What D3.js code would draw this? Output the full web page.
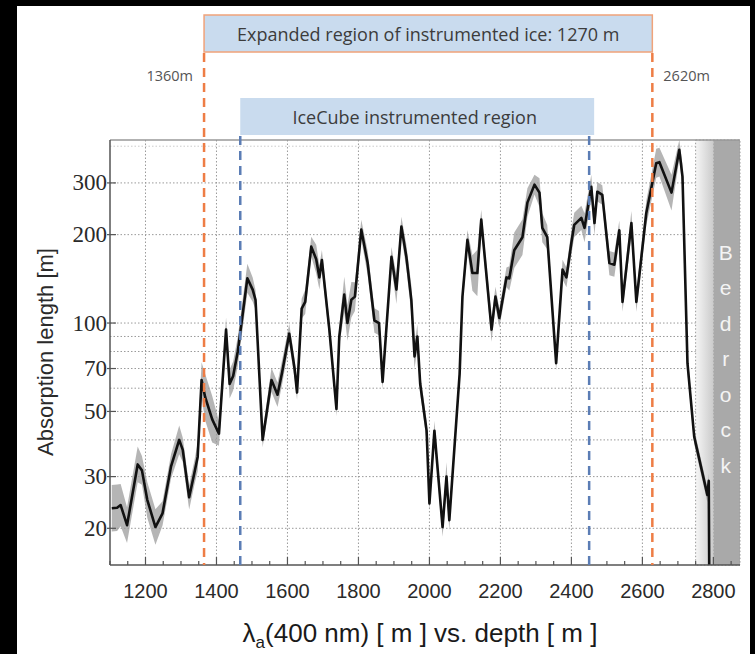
<!DOCTYPE html>
<html>
<head>
<meta charset="utf-8">
<script src="https://cdn.jsdelivr.net/npm/d3@7/dist/d3.min.js"></script>
<style>
  body { margin: 0; background: #000; }
  svg { display: block; }
</style>
</head>
<body>
<svg id="chart" width="755" height="654"></svg>
<script>
// depth [m] of each measured point
var depth = [1105, 1120, 1130, 1148, 1178, 1190, 1205, 1228, 1248, 1272,
  1295, 1305, 1323, 1338, 1347, 1358, 1368, 1388, 1407, 1427,
  1437, 1447, 1460, 1475, 1487, 1502, 1510, 1530, 1555, 1572,
  1585, 1605, 1620, 1627, 1640, 1650, 1667, 1681, 1690, 1697,
  1718, 1738, 1746, 1760, 1769, 1780, 1790, 1808, 1826, 1845,
  1858, 1868, 1893, 1907, 1921, 1935, 1949, 1958, 1966, 1974,
  1992, 2000, 2014, 2037, 2048, 2056, 2085, 2093, 2107, 2121,
  2135, 2146, 2175, 2186, 2197, 2217, 2225, 2239, 2262, 2276,
  2296, 2310, 2318, 2332, 2357, 2375, 2386, 2400, 2408, 2428,
  2437, 2456, 2465, 2473, 2487, 2507, 2521, 2535, 2544, 2569,
  2583, 2611, 2639, 2648, 2682, 2704, 2713, 2727, 2746, 2783,
  2787, 2789];
// absorption length [m]
var absLen = [23.4, 23.5, 24, 20.5, 33, 31.5, 25, 20.2, 22.5, 32.5,
  40, 37, 25.5, 31, 35, 64, 56, 47, 42, 95,
  62, 66, 80, 110, 142, 130, 120, 40, 64, 57,
  68, 92, 70, 58, 112, 118, 182, 165, 143, 164,
  95, 51, 90, 125, 100, 120, 123, 208, 160, 102,
  100, 63, 168, 130, 213, 168, 120, 77, 90, 62,
  43, 24.3, 43, 20.2, 30, 21.3, 67, 123, 192, 148,
  148, 225, 95, 123, 104, 143, 142, 177, 196, 257,
  296, 278, 211, 196, 73, 152, 143, 188, 216, 228,
  211, 291, 219, 280, 273, 160, 158, 207, 118, 219,
  118, 237, 350, 353, 278, 389, 315, 73, 41, 26,
  29, 10];
// relative half width of the grey uncertainty band
var spread = [0.2, 0.2, 0.18, 0.15, 0.15, 0.12, 0.15, 0.15, 0.1, 0.1,
  0.12, 0.1, 0.1, 0.1, 0.12, 0.15, 0.2, 0.2, 0.1, 0.1,
  0.12, 0.12, 0.12, 0.12, 0.12, 0.1, 0.08, 0.06, 0.1, 0.1,
  0.1, 0.08, 0.08, 0.06, 0.08, 0.1, 0.08, 0.12, 0.1, 0.08,
  0.08, 0.06, 0.08, 0.15, 0.15, 0.15, 0.12, 0.08, 0.1, 0.1,
  0.1, 0.06, 0.08, 0.12, 0.08, 0.1, 0.12, 0.1, 0.1, 0.08,
  0.08, 0.06, 0.08, 0.08, 0.12, 0.08, 0.06, 0.08, 0.08, 0.15,
  0.2, 0.08, 0.1, 0.08, 0.08, 0.08, 0.1, 0.15, 0.15, 0.12,
  0.08, 0.12, 0.12, 0.1, 0.06, 0.08, 0.08, 0.1, 0.1, 0.1,
  0.12, 0.1, 0.1, 0.08, 0.08, 0.1, 0.1, 0.08, 0.08, 0.1,
  0.08, 0.1, 0.12, 0.12, 0.15, 0.08, 0.1, 0.08, 0.06, 0.06,
  0.06, 0.06];

var yTickValues = [20, 30, 50, 70, 100, 200, 300];
var yGridValues = [20, 30, 40, 50, 60, 70, 80, 90, 100, 200, 300, 400];
var xTickValues = [1200, 1400, 1600, 1800, 2000, 2200, 2400, 2600, 2800];
var expandedRange = [1365, 2628];
var expandedLabels = ["1360m", "2620m"];
var expandedTitle = "Expanded region of instrumented ice: 1270 m";
var iceCubeRange = [1467, 2450];
var iceCubeTitle = "IceCube instrumented region";
var bedrockRange = [2750, 2800, 2875];
var bedrockText = "Bedrock";

var svg = d3.select("#chart");
var MARGINS = { top: 140, right: 15, bottom: 89, left: 110 },
    WIDTH = 755, HEIGHT = 654;

var xScale = d3.scaleLinear().domain([1100, 2875]).range([MARGINS.left, WIDTH - MARGINS.right]),
    yScale = d3.scaleLog().domain([15, 420]).range([HEIGHT - MARGINS.bottom, MARGINS.top]);
var x0 = xScale.range()[0], x1 = xScale.range()[1],
    y0 = yScale.range()[0], y1 = yScale.range()[1];

var data = depth.map(function(d, i) {
  return { x: d, y: absLen[i], s: spread[i] };
});

// white panel
svg.append("rect").attr("x", 17).attr("y", 6).attr("width", 733).attr("height", 648).attr("fill", "#fff");

var defs = svg.append("defs");
defs.append("clipPath").attr("id", "plotClip")
  .append("rect").attr("x", x0).attr("y", y1).attr("width", x1 - x0).attr("height", y0 - y1);
var grad = defs.append("linearGradient").attr("id", "rockGrad");
grad.append("stop").attr("offset", "0%").attr("stop-color", "#f6f6f6");
grad.append("stop").attr("offset", "100%").attr("stop-color", "#cbcbcb");

// grid
var grid = svg.append("g").attr("stroke", "#9a9a9a").attr("stroke-dasharray", "1.5,2").attr("stroke-width", 1);
grid.selectAll(".gx").data(xTickValues).enter().append("line")
  .attr("x1", function(d) { return xScale(d); }).attr("x2", function(d) { return xScale(d); })
  .attr("y1", y1).attr("y2", y0);
grid.selectAll(".gy").data(yGridValues).enter().append("line")
  .attr("x1", x0).attr("x2", x1)
  .attr("y1", function(d) { return yScale(d); }).attr("y2", function(d) { return yScale(d); })
  .attr("stroke-opacity", function(d) { return d === 400 ? 0.5 : 1; });

// bedrock
svg.append("rect")
  .attr("x", xScale(bedrockRange[0])).attr("y", y1)
  .attr("width", xScale(bedrockRange[1]) - xScale(bedrockRange[0])).attr("height", y0 - y1)
  .attr("fill", "url(#rockGrad)");
svg.append("rect")
  .attr("x", xScale(bedrockRange[1])).attr("y", y1)
  .attr("width", xScale(bedrockRange[2]) - xScale(bedrockRange[1])).attr("height", y0 - y1)
  .attr("fill", "#a9a9a9");
svg.append("rect")
  .attr("x", xScale(bedrockRange[0])).attr("y", y1)
  .attr("width", xScale(bedrockRange[2]) - xScale(bedrockRange[0])).attr("height", y0 - y1)
  .attr("fill", "none").attr("stroke", "#999").attr("stroke-dasharray", "1.5,2");
var rockX = (xScale(bedrockRange[1]) + xScale(bedrockRange[2])) / 2 - 1;
svg.append("g").selectAll("text").data(bedrockText.split("")).enter().append("text")
  .attr("x", rockX).attr("y", function(d, i) { return 252 + i * 35.5; })
  .attr("text-anchor", "middle").attr("dominant-baseline", "central")
  .attr("font-family", "Liberation Sans, Arial, sans-serif").attr("font-size", 21)
  .attr("fill", "#f4f4f4").text(function(d) { return d; });

// band + line
var plot = svg.append("g").attr("clip-path", "url(#plotClip)");
var areaGen = d3.area()
  .x(function(d) { return xScale(d.x); })
  .y0(function(d) { return yScale(d.y / (1 + d.s)); })
  .y1(function(d) { return yScale(d.y * (1 + d.s)); });
plot.append("path").attr("d", areaGen(data)).attr("fill", "#9c9c9c").attr("fill-opacity", 0.75);

var lineGen = d3.line()
  .x(function(d) { return xScale(d.x); })
  .y(function(d) { return yScale(d.y); });
plot.append("path").attr("d", lineGen(data))
  .attr("fill", "none").attr("stroke", "#111").attr("stroke-width", 2.6).attr("stroke-linejoin", "round");

// axes frame
svg.append("line").attr("x1", x0).attr("x2", x1).attr("y1", y1).attr("y2", y1).attr("stroke", "#999").attr("stroke-width", 1.5);
svg.append("line").attr("x1", x0).attr("x2", x1).attr("y1", y0).attr("y2", y0).attr("stroke", "#555").attr("stroke-width", 1.5);
svg.append("line").attr("x1", x0).attr("x2", x0).attr("y1", y1).attr("y2", y0).attr("stroke", "#555").attr("stroke-width", 1.5);

// x ticks (inward)
var minor = d3.range(1100, 2876, 50);
svg.append("g").selectAll("line").data(minor).enter().append("line")
  .attr("x1", function(d) { return xScale(d); }).attr("x2", function(d) { return xScale(d); })
  .attr("y1", y0).attr("y2", function(d) { return y0 - (d % 200 === 0 ? 8 : 4); })
  .attr("stroke", "#555").attr("stroke-width", 1.2);
svg.append("g").selectAll("text").data(xTickValues).enter().append("text")
  .attr("x", function(d) { return xScale(d); }).attr("y", 598)
  .attr("text-anchor", "middle")
  .attr("font-family", "Liberation Sans, Arial, sans-serif").attr("font-size", 20)
  .attr("fill", "#2a2a2a").text(function(d) { return d; });

// y ticks
svg.append("g").selectAll("line").data(yTickValues).enter().append("line")
  .attr("x1", x0 - 3).attr("x2", x0 + 6)
  .attr("y1", function(d) { return yScale(d); }).attr("y2", function(d) { return yScale(d); })
  .attr("stroke", "#555").attr("stroke-width", 1.2);
svg.append("g").selectAll("text").data(yTickValues).enter().append("text")
  .attr("x", x0 - 3).attr("y", function(d) { return yScale(d); })
  .attr("text-anchor", "end").attr("dominant-baseline", "central")
  .attr("font-family", "Liberation Serif, Times New Roman, serif").attr("font-size", 23)
  .attr("fill", "#2a2a2a").text(function(d) { return d; });

// axis titles
var xt = svg.append("text").attr("x", 420).attr("y", 642).attr("text-anchor", "middle")
  .attr("font-family", "Liberation Sans, Arial, sans-serif").attr("font-size", 26).attr("fill", "#1a1a1a");
xt.append("tspan").text("\u03bb");
xt.append("tspan").attr("font-size", 17).attr("dy", 6).text("a");
xt.append("tspan").attr("dy", -6).text("(400 nm) [ m ] vs. depth [ m ]");

svg.append("text").attr("transform", "translate(45,352) rotate(-90)")
  .attr("text-anchor", "middle").attr("dominant-baseline", "central")
  .attr("font-family", "Liberation Sans, Arial, sans-serif").attr("font-size", 22)
  .attr("fill", "#2a2a2a").text("Absorption length [m]");

// region markers
var orange = "#ee7d45", blue = "#5b7db5", boxFill = "#c9dbee";
svg.append("rect")
  .attr("x", xScale(expandedRange[0])).attr("y", 15)
  .attr("width", xScale(expandedRange[1]) - xScale(expandedRange[0])).attr("height", 37)
  .attr("fill", boxFill).attr("stroke", "#f0a37a").attr("stroke-width", 1.5);
svg.append("text").attr("x", (xScale(expandedRange[0]) + xScale(expandedRange[1])) / 2).attr("y", 34)
  .attr("text-anchor", "middle").attr("dominant-baseline", "central")
  .attr("font-family", "Open Sans, Lato, sans-serif").attr("font-size", 18)
  .attr("fill", "#3c3c3c").text(expandedTitle);

svg.append("rect")
  .attr("x", xScale(iceCubeRange[0])).attr("y", 98)
  .attr("width", xScale(iceCubeRange[1]) - xScale(iceCubeRange[0]) + 5).attr("height", 37)
  .attr("fill", boxFill);
svg.append("text").attr("x", (xScale(iceCubeRange[0]) + xScale(iceCubeRange[1])) / 2).attr("y", 117)
  .attr("text-anchor", "middle").attr("dominant-baseline", "central")
  .attr("font-family", "Open Sans, Lato, sans-serif").attr("font-size", 18)
  .attr("fill", "#3c3c3c").text(iceCubeTitle);

svg.append("g").selectAll("line").data(expandedRange).enter().append("line")
  .attr("x1", function(d) { return xScale(d); }).attr("x2", function(d) { return xScale(d); })
  .attr("y1", 53).attr("y2", y0)
  .attr("stroke", orange).attr("stroke-width", 2.5).attr("stroke-dasharray", "9,6");
svg.append("g").selectAll("line").data(iceCubeRange).enter().append("line")
  .attr("x1", function(d) { return xScale(d); }).attr("x2", function(d) { return xScale(d); })
  .attr("y1", 136).attr("y2", y0)
  .attr("stroke", blue).attr("stroke-width", 2.5).attr("stroke-dasharray", "9,6");

svg.append("g").selectAll("text").data(expandedRange).enter().append("text")
  .attr("x", function(d, i) { return xScale(d) + (i === 0 ? -11 : 11); }).attr("y", 75)
  .attr("text-anchor", function(d, i) { return i === 0 ? "end" : "start"; })
  .attr("dominant-baseline", "central")
  .attr("font-family", "Open Sans, Lato, sans-serif").attr("font-size", 14.5)
  .attr("fill", "#555").text(function(d, i) { return expandedLabels[i]; });
</script>
</body>
</html>
